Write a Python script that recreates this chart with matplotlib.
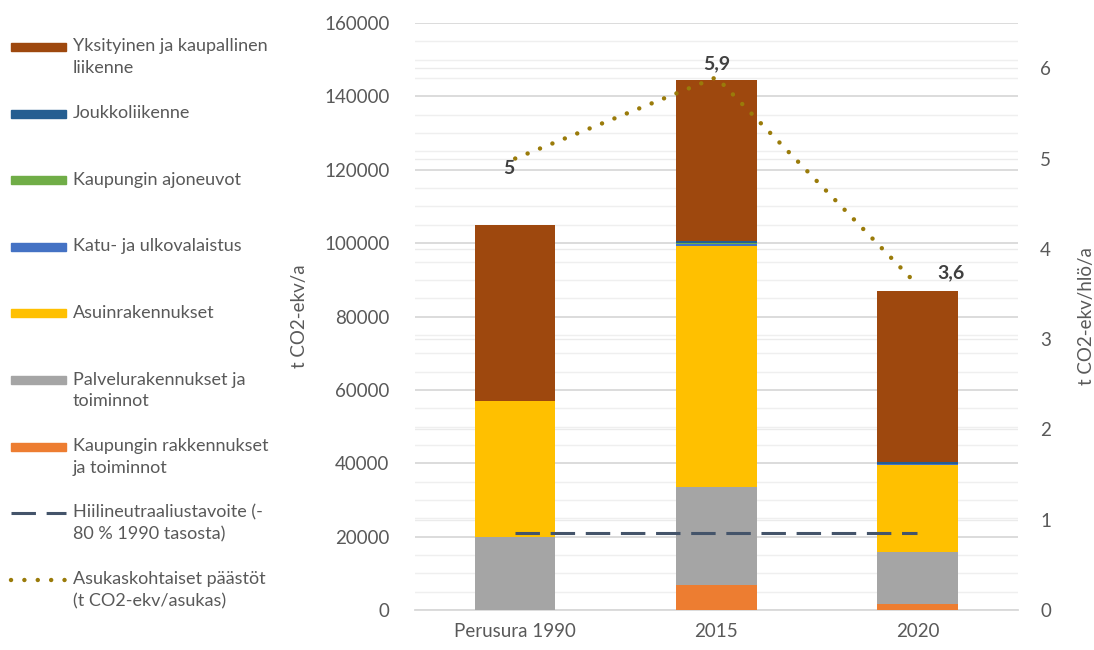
import matplotlib
matplotlib.use('Agg')
import matplotlib.pyplot as plt
from matplotlib.patches import Rectangle
from matplotlib.lines import Line2D
from matplotlib.ticker import MultipleLocator
import numpy as np

plt.rcParams['font.family'] = ['Lato', 'DejaVu Sans']

# --- data (t CO2-ekv/a), luettu kuvasta ---
categories = ['Perusura 1990', '2015', '2020']

kaupungin_rakennukset = [0, 6800, 1700]
palvelurakennukset = [20000, 26700, 14100]
asuinrakennukset = [37000, 65700, 23700]
katuvalaistus = [0, 600, 300]
kaupungin_ajoneuvot = [0, 200, 100]
joukkoliikenne = [0, 600, 500]
yksityinen_liikenne = [48000, 43900, 46600]

tavoite = [21000, 21000, 21000]          # -80 % 1990 tasosta
asukaskohtaiset = [5.0, 5.9, 3.6]        # t CO2-ekv/asukas
asukas_labels = ['5', '5,9', '3,6']

# alhaalta ylös
STACK = [
    ('Kaupungin rakkennukset\nja toiminnot', kaupungin_rakennukset, '#ed7d31'),
    ('Palvelurakennukset ja\ntoiminnot', palvelurakennukset, '#a5a5a5'),
    ('Asuinrakennukset', asuinrakennukset, '#ffc000'),
    ('Katu- ja ulkovalaistus', katuvalaistus, '#4472c4'),
    ('Kaupungin ajoneuvot', kaupungin_ajoneuvot, '#70ad47'),
    ('Joukkoliikenne', joukkoliikenne, '#255e91'),
    ('Yksityinen ja kaupallinen\nliikenne', yksityinen_liikenne, '#9e480e'),
]

TXT = '#595959'
LINE_COLOR = '#44546a'
DOT_COLOR = '#9a7b0a'
DOT_STYLE = (0, (0.01, 3.0))

fig = plt.figure(figsize=(10.94, 6.5), dpi=100)
pos = [0.379, 0.0615, 0.5515, 0.903]

# taustan oikean akselin ruudukko
axg = fig.add_axes(pos)
axg.set_ylim(0, 6.5)
axg.set_xlim(-0.5, 2.5)
axg.yaxis.set_major_locator(MultipleLocator(1))
axg.grid(axis='y', color='#ebebeb', linewidth=1.0)
axg.set_xticks([])
axg.tick_params(left=False, labelleft=False)
for s in axg.spines.values():
    s.set_visible(False)
axg.set_zorder(0)

ax = fig.add_axes(pos)
ax.set_zorder(1)
ax.patch.set_visible(False)
x = np.arange(len(categories))
bottom = np.zeros(len(categories))
for label, vals, color in STACK:
    ax.bar(x, vals, width=0.4, bottom=bottom, color=color, zorder=3)
    bottom += np.array(vals)

ax.plot(x, tavoite, color=LINE_COLOR, linewidth=2.2, dashes=(8, 3.5), zorder=4)

ax.set_xlim(-0.5, 2.5)
ax.set_ylim(0, 160000)
ax.yaxis.set_major_locator(MultipleLocator(20000))
ax.yaxis.set_minor_locator(MultipleLocator(5000))
ax.grid(which='major', axis='y', color='#d9d9d9', linewidth=1.3)
ax.grid(which='minor', axis='y', color='#efefef', linewidth=1.0)
ax.set_axisbelow(True)
ax.set_xticks(x)
ax.set_xticklabels(categories)
ax.tick_params(axis='both', which='both', length=0, colors=TXT, labelsize=13.5)
ax.tick_params(axis='y', pad=18)
ax.tick_params(axis='x', pad=9)
for s in ['top', 'right', 'left']:
    ax.spines[s].set_visible(False)
ax.spines['bottom'].set_color('#d9d9d9')
ax.spines['bottom'].set_linewidth(1.3)
ax.set_ylabel('t CO2-ekv/a', color=TXT, fontsize=13.5, labelpad=12)

ax2 = ax.twinx()
ax2.set_zorder(2)
ax2.set_ylim(0, 6.5)
ax2.yaxis.set_major_locator(MultipleLocator(1))
ax2.plot(x, asukaskohtaiset, color=DOT_COLOR, linewidth=3.2,
         linestyle=DOT_STYLE, dash_capstyle='round', zorder=5)
for s in ax2.spines.values():
    s.set_visible(False)
ax2.tick_params(axis='y', length=0, colors=TXT, labelsize=13.5, pad=16)
ax2.set_ylabel('t CO2-ekv/hlö/a', color=TXT, fontsize=13.5, labelpad=19)

offsets = [(-6, -10), (0, 14), (34, 12)]
for xi, v, lab, (dx, dy) in zip(x, asukaskohtaiset, asukas_labels, offsets):
    ax2.annotate(lab, (xi, v), xytext=(dx, dy), textcoords='offset pixels',
                 ha='center', va='center', fontsize=14, fontweight='bold',
                 color='#404040')

# --- legend (piirretty käsin, Excel-tyyliin) ---
legend_items = [(lab, 'patch', c) for lab, _, c in reversed(STACK)]
legend_items += [
    ('Hiilineutraaliustavoite (-\n80 % 1990 tasosta)', 'dash', LINE_COLOR),
    ('Asukaskohtaiset päästöt\n(t CO2-ekv/asukas)', 'dot', DOT_COLOR),
]
W, H = fig.get_size_inches() * fig.dpi
y0, step = 47, 66.6
for i, (lab, kind, color) in enumerate(legend_items):
    yp = y0 + i * step
    yf = 1 - yp / H
    if kind == 'patch':
        fig.add_artist(Rectangle((11 / W, yf - 4 / H), 55 / W, 8 / H,
                                 transform=fig.transFigure, color=color))
    elif kind == 'dash':
        fig.add_artist(Line2D([11 / W, 66 / W], [yf, yf], transform=fig.transFigure,
                              color=color, linewidth=2.2, dashes=(8, 3.5)))
    else:
        fig.add_artist(Line2D([11 / W, 66 / W], [yf, yf], transform=fig.transFigure,
                              color=color, linewidth=3.2, linestyle=DOT_STYLE,
                              dash_capstyle='round'))
    fig.text(73 / W, yf + 8.5 / H, lab, ha='left', va='top', color=TXT,
             fontsize=13, linespacing=1.45)

fig.savefig('out.png', dpi=100)
